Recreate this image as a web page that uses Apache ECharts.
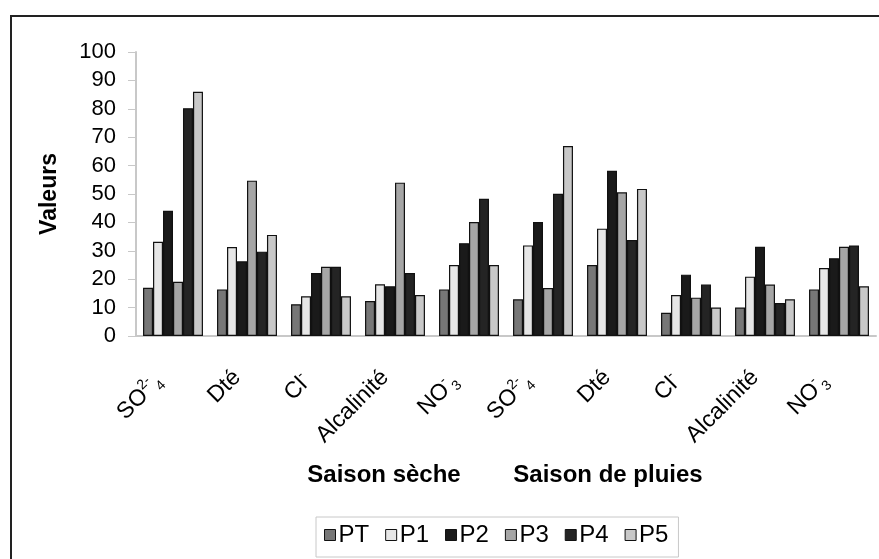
<!DOCTYPE html>
<html>
<head>
<meta charset="utf-8">
<script src="https://cdn.jsdelivr.net/npm/echarts@6/dist/echarts.min.js"></script>
<style>
  html, body { margin: 0; padding: 0; background: #fff; }
  #chart { width: 879px; height: 559px; }
</style>
</head>
<body>
<div id="chart"></div>
<script>
// categories: dry season first, then rainy season
var categories = ['SO4', 'Dté', 'Cl', 'Alcalinité', 'NO3', 'SO4 ', 'Dté ', 'Cl ', 'Alcalinité ', 'NO3 '];
var seriesNames = ['PT', 'P1', 'P2', 'P3', 'P4', 'P5'];
var yTicks = [0, 100, 10];

// values
var PT = [17, 16.4, 11.2, 12.3, 16.4, 12.9, 25, 8.2, 10, 16.4];
var P1 = [33.2, 31.3, 14, 18.2, 25, 31.9, 37.8, 14.4, 20.9, 23.9];
var P2 = [44.1, 26.3, 22.2, 17.5, 32.7, 40.1, 58.2, 21.6, 31.4, 27.4];
var P3 = [19.1, 54.7, 24.4, 54, 40.1, 16.9, 50.6, 13.5, 18.1, 31.4];
var P4 = [80.2, 29.7, 24.4, 22.2, 48.3, 50.1, 33.8, 18.1, 11.6, 31.9];
var P5 = [86, 35.6, 14, 14.4, 25, 66.9, 51.8, 10, 12.9, 17.5];

var colors = ['#777777', '#e6e6e6', '#1a1a1a', '#a6a6a6', '#242424', '#c8c8c8'];
var values = [PT, P1, P2, P3, P4, P5];

// category labels with sub/superscripts
function labelFor(v) {
  var k = v.trim();
  if (k === 'SO4') return 'SO{sup|2-}{sub|4}{e| }';
  if (k === 'Cl') return 'Cl{sup|-}{e| }';
  if (k === 'NO3') return 'NO{sup|-}{sub|3}{e| }';
  return k;
}

var chart = echarts.init(document.getElementById('chart'));

var series = seriesNames.map(function (name, i) {
  return {
    name: name,
    type: 'bar',
    data: values[i],
    barGap: '0%',
    barCategoryGap: '19%',
    itemStyle: { color: colors[i], borderColor: '#111', borderWidth: 1.2 },
    emphasis: { disabled: true }
  };
});

var option = {
  animation: false,
  textStyle: { fontFamily: 'Liberation Sans, Arial, sans-serif', color: '#000' },
  grid: { left: 136, right: 3, top: 52, bottom: 223, containLabel: false },
  legend: {
    data: seriesNames,
    icon: 'rect',
    left: 316,
    top: 517,
    padding: [6, 10, 10, 8],
    itemGap: 16,
    itemWidth: 11,
    itemHeight: 11,
    borderColor: '#c8c8c8',
    borderWidth: 1,
    itemStyle: { borderColor: '#111', borderWidth: 1 },
    textStyle: { fontSize: 24, color: '#000', padding: [0, 0, 0, -2] }
  },
  xAxis: {
    type: 'category',
    data: categories,
    axisLine: { lineStyle: { color: '#c8c8c8', width: 2 } },
    axisTick: { length: 8, lineStyle: { color: '#c8c8c8', width: 1 } },
    axisLabel: {
      rotate: 45,
      margin: 28,
      fontSize: 23,
      color: '#000',
      interval: 0,
      lineHeight: 28,
      padding: [0, 14, 0, 0],
      formatter: labelFor,
      rich: {
        sup: { fontSize: 14, verticalAlign: 'top', lineHeight: 28 },
        sub: { fontSize: 14, verticalAlign: 'bottom', lineHeight: 28 },
        e: { fontSize: 14, width: 6 }
      }
    }
  },
  yAxis: {
    type: 'value',
    min: yTicks[0],
    max: yTicks[1],
    interval: yTicks[2],
    name: 'Valeurs',
    nameLocation: 'middle',
    nameRotate: 90,
    nameGap: 75,
    nameTextStyle: { fontSize: 23, fontWeight: 'bold', color: '#000' },
    splitLine: { show: false },
    axisLine: { show: true, lineStyle: { color: '#c8c8c8', width: 2 } },
    axisTick: { show: true, length: 8, lineStyle: { color: '#c8c8c8' } },
    axisLabel: { fontSize: 22, color: '#000', margin: 20 }
  },
  graphic: [
    {
      type: 'rect',
      shape: { x: 11, y: 16, width: 900, height: 600 },
      style: { fill: 'none', stroke: '#222', lineWidth: 2 },
      silent: true
    },
    {
      type: 'text',
      x: 384, y: 475,
      style: { text: 'Saison sèche', font: 'bold 24px Liberation Sans', fill: '#000', align: 'center', verticalAlign: 'middle' }
    },
    {
      type: 'text',
      x: 608, y: 475,
      style: { text: 'Saison de pluies', font: 'bold 24px Liberation Sans', fill: '#000', align: 'center', verticalAlign: 'middle' }
    }
  ],
  series: series
};

chart.setOption(option);
</script>
</body>
</html>
